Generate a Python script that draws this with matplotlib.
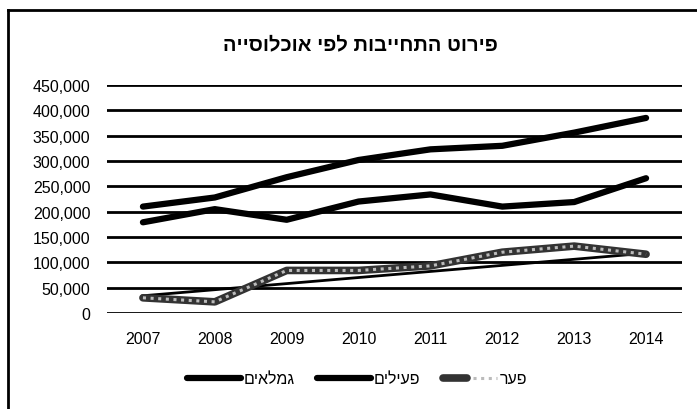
import matplotlib
matplotlib.use("Agg")
import matplotlib.pyplot as plt
from matplotlib.lines import Line2D
from matplotlib.legend_handler import HandlerTuple
from matplotlib.ticker import FuncFormatter

years = ["2007", "2008", "2009", "2010", "2011", "2012", "2013", "2014"]
retirees = [210000, 228000, 268000, 302000, 323000, 330000, 356000, 385000]
active = [179000, 205000, 184000, 220000, 234000, 210000, 219000, 266000]
gap = [30000, 22000, 84000, 84000, 93000, 120000, 132000, 116000]
trend_years = ["2007", "2014"]
trend_values = [34000, 118000]
yticks = [0, 50000, 100000, 150000, 200000, 250000, 300000, 350000, 400000, 450000]

title = "פירוט התחייבות לפי אוכלוסייה"
labels = ["גמלאים", "פעילים", "פער"]

def vis(s):
    return s[::-1]

FONT = ["Liberation Sans", "DejaVu Sans"]
plt.rcParams["font.family"] = FONT

fig = plt.figure(figsize=(6.97, 4.10), dpi=100)
ax = fig.add_axes([107 / 697, 1 - 314 / 410, (682 - 107) / 697, (314 - 86) / 410])

x = list(range(len(years)))
xt = [years.index(y) for y in trend_years]

ax.set_ylim(0, 450000)
ax.set_xlim(-0.5, len(years) - 0.5)
ax.set_yticks(yticks)
ax.yaxis.set_major_formatter(FuncFormatter(lambda v, p: f"{int(v):,}"))
ax.set_xticks(x)
ax.set_xticklabels(years)
ax.grid(axis="y", color="black", linewidth=2.0)
ax.set_axisbelow(True)
for s in ax.spines.values():
    s.set_visible(False)
ax.tick_params(length=0, labelsize=11.5, colors="black")
ax.tick_params(axis="y", pad=12)
ax.tick_params(axis="x", pad=13)

l1, = ax.plot(x, retirees, color="black", lw=4.5, solid_capstyle="round", solid_joinstyle="round", zorder=4)
l2, = ax.plot(x, active, color="black", lw=4.5, solid_capstyle="round", solid_joinstyle="round", zorder=4)
ax.plot(xt, trend_values, color="black", lw=2.0, zorder=3)
g1, = ax.plot(x, gap, color="#333333", lw=5.5, solid_capstyle="round", solid_joinstyle="round", zorder=5)
g2, = ax.plot(x, gap, color="#bbbbbb", lw=2.2, linestyle=(0, (1, 1.5)), zorder=6)

fig.text(0.517, 1 - 45 / 410, vis(title), ha="center", va="center", fontsize=14.5, fontweight="bold")

leg = fig.legend([l1, l2, (g1, g2)], [vis(t) for t in labels],
                 handler_map={tuple: HandlerTuple(ndivide=None)},
                 loc="center", bbox_to_anchor=(0.512, 1 - 380 / 410), ncol=3, frameon=False,
                 fontsize=11.5, handlelength=3.4, handletextpad=0.15, columnspacing=1.4)

# outer chart border (top and left visible)
fig.add_artist(Line2D([8 / 697, 8 / 697], [0, 1 - 11 / 410], transform=fig.transFigure, color="black", lw=2))
fig.add_artist(Line2D([8 / 697, 1], [1 - 11 / 410, 1 - 11 / 410], transform=fig.transFigure, color="black", lw=2))

fig.savefig("out.png", dpi=100)
